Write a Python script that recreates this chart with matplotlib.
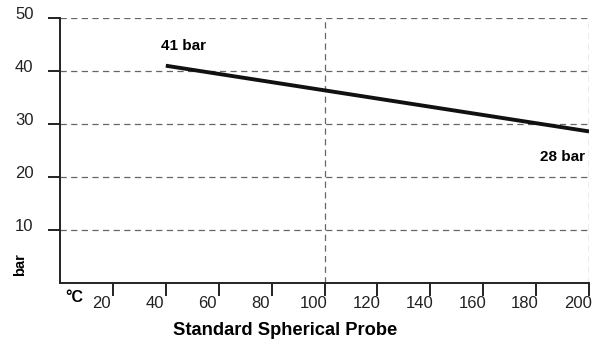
import matplotlib.pyplot as plt
import matplotlib.transforms as mtransforms

plt.rcParams['font.family'] = ['Liberation Sans', 'DejaVu Sans']

# data
temp_c = [40, 200]
pressure_bar = [41, 28.6]
x_ticks = [20, 40, 60, 80, 100, 120, 140, 160, 180, 200]
y_ticks = [10, 20, 30, 40, 50]
x_grid = [100, 200]
start_label = '41 bar'
end_label = '28 bar'

fig = plt.figure(figsize=(6.01, 3.45), dpi=100)
ax = fig.add_axes([60 / 601, 62 / 345, 529 / 601, 265 / 345])

grid_style = dict(color='#666666', lw=0.9, ls=(0, (5, 3.5)), zorder=1)
for y in y_ticks:
    ax.axhline(y, **grid_style)
for x in x_grid:
    ax.axvline(x, **grid_style)

ax.plot(temp_c, pressure_bar, color='#111111', lw=2.8, solid_capstyle='butt', zorder=3)

ax.text(temp_c[0] - 2, pressure_bar[0] + 2.4, start_label, fontsize=11,
        fontweight='bold', ha='left', va='bottom')
ax.text(temp_c[1] - 1.5, pressure_bar[1] - 4.9, end_label, fontsize=11,
        fontweight='bold', ha='right', va='center')

ax.set_xlim(0, 200)
ax.set_ylim(0, 50)
ax.set_xticks(x_ticks)
ax.set_yticks(y_ticks)
ax.tick_params(axis='both', direction='out', length=9, width=1.4,
               color='#222222', labelsize=12, labelcolor='#222222')
ax.tick_params(axis='y', pad=10)
ax.tick_params(axis='x', pad=0)

# shift tick labels like in the original print layout
dx = mtransforms.ScaledTranslation(-11 / 100, 0, fig.dpi_scale_trans)
for lbl in ax.get_xticklabels():
    lbl.set_transform(lbl.get_transform() + dx)
dy = mtransforms.ScaledTranslation(0, 5 / 100, fig.dpi_scale_trans)
for lbl in ax.get_yticklabels():
    lbl.set_transform(lbl.get_transform() + dy)

for s in ['top', 'right']:
    ax.spines[s].set_visible(False)
for s in ['left', 'bottom']:
    ax.spines[s].set_linewidth(1.4)
    ax.spines[s].set_color('#222222')

fig.text(20 / 601, 1 - 265 / 345, 'bar', rotation=90, fontsize=10.5,
         fontweight='bold', ha='center', va='center')
fig.text(65 / 601, 1 - 297 / 345, '°C', fontsize=11.5,
         fontweight='bold', ha='left', va='center')
fig.text(285.5 / 601, 1 - 330.5 / 345, 'Standard Spherical Probe', fontsize=13.2,
         fontweight='bold', ha='center', va='center')

fig.savefig('out.png', dpi=100)
